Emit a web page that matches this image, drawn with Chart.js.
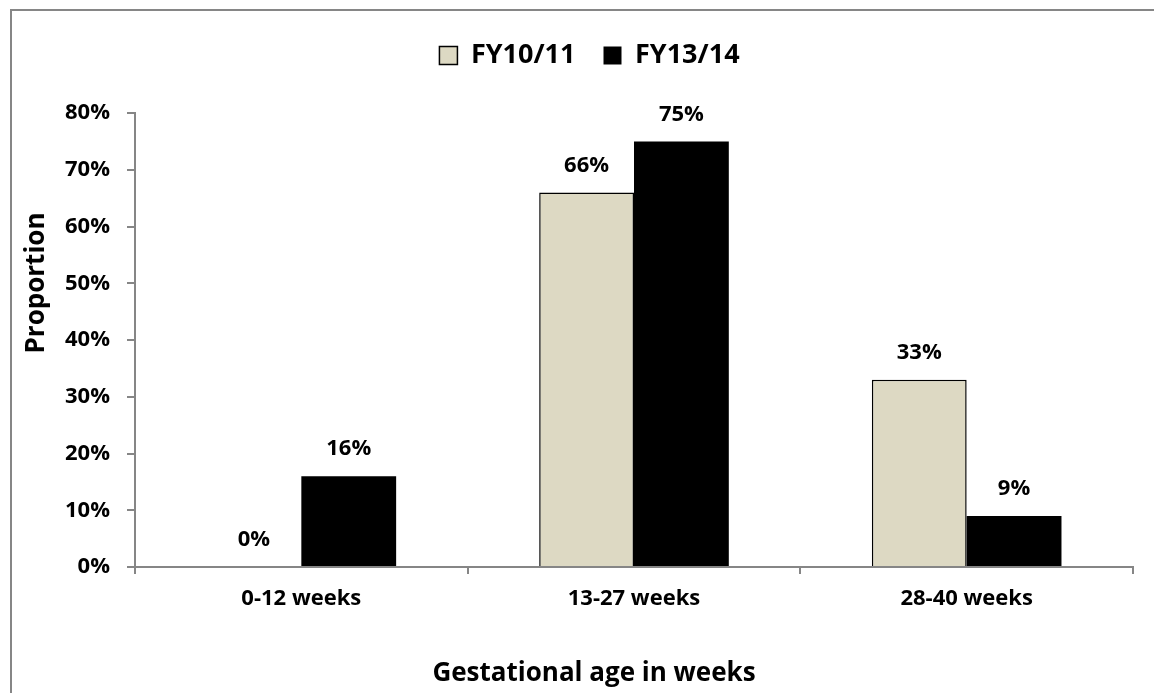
<!DOCTYPE html>
<html>
<head>
<meta charset="utf-8">
<script src="https://cdn.jsdelivr.net/npm/chart.js@4/dist/chart.umd.min.js"></script>
<style>
    html, body { margin: 0; padding: 0; background: #fff; overflow: hidden; }
    #frame {
        position: absolute; left: 10px; top: 9px;
        width: 1300px; height: 900px;
        border: 2px solid #868686;
    }
    #chart { position: absolute; left: 0; top: 0; }
</style>
</head>
<body>
<div id="frame"></div>
<canvas id="chart" width="1154" height="693"></canvas>
<script>

const categories = ["0-12 weeks", "13-27 weeks", "28-40 weeks"];

const seriesNames = ["FY10/11", "FY13/14"];

const fy1011 = [0, 66, 33];

const fy1314 = [16, 75, 9];

const yTicks = [0, 10, 20, 30, 40, 50, 60, 70, 80];

const xTitle = "Gestational age in weeks";

const yTitle = "Proportion";

const axisGray = "#868686";

const fontFamily = "'Open Sans', sans-serif";

// value labels above each bar
const barLabels = {
    id: "barLabels",
    afterDatasetsDraw(chart) {
        const ctx = chart.ctx;
        ctx.save();
        ctx.font = "bold 22px " + fontFamily;
        ctx.fillStyle = "#000";
        ctx.textAlign = "center";
        ctx.textBaseline = "middle";
        chart.data.datasets.forEach((ds, i) => {
            chart.getDatasetMeta(i).data.forEach((bar, j) => {
                ctx.fillText(ds.data[j] + "%", bar.x, bar.y - 27);
            });
        });
        ctx.restore();
    }
};

// axis titles are centred on the whole frame in the original, not the plot
const axisTitles = {
    id: "axisTitles",
    afterDraw(chart) {
        const ctx = chart.ctx;
        ctx.save();
        ctx.font = "bold 26px " + fontFamily;
        ctx.fillStyle = "#000";
        ctx.textAlign = "center";
        ctx.textBaseline = "middle";
        ctx.fillText(xTitle, 594, 674);
        ctx.translate(37, 283);
        ctx.rotate(-Math.PI / 2);
        ctx.fillText(yTitle, 0, 0);
        ctx.restore();
    }
};

// fixed legend height + nudge it a little
const legendFix = {
    id: "legendFix",
    beforeInit(chart) {
        const fit = chart.legend.fit;
        chart.legend.fit = function () {
            fit.call(this);
            this.height = 103;
        };
    },
    afterLayout(chart) {
        chart.legend.left += 24;
        chart.legend.top += 4;
    }
};

new Chart(document.getElementById("chart"), {

    type: "bar",

    data: {
        labels: categories,
        datasets: [
            {
                label: seriesNames[0],
                data: fy1011,
                backgroundColor: "#DDD9C3",
                borderColor: "#000",
                borderWidth: 1.5
            },
            {
                label: seriesNames[1],
                data: fy1314,
                backgroundColor: "#000",
                borderColor: "#000",
                borderWidth: 0
            }
        ]
    },

    plugins: [barLabels, axisTitles, legendFix],

    options: {
        responsive: false,
        animation: false,
        layout: {
            padding: { left: 22, right: 21, top: 10, bottom: 5 }
        },
        datasets: {
            bar: {
                categoryPercentage: 0.57,
                barPercentage: 1
            }
        },
        plugins: {
            tooltip: { enabled: false },
            legend: {
                position: "top",
                labels: {
                    color: "#000",
                    boxWidth: 18,
                    boxHeight: 18,
                    padding: 28,
                    font: { family: fontFamily, size: 27, weight: "bold" }
                }
            }
        },
        scales: {
            x: {
                afterFit(scale) { scale.height = 121; },
                grid: {
                    offset: true,
                    drawOnChartArea: false,
                    drawTicks: true,
                    tickLength: 7,
                    color: axisGray,
                    lineWidth: 2
                },
                border: { color: axisGray, width: 2 },
                ticks: {
                    color: "#000",
                    padding: 12,
                    font: { family: fontFamily, size: 22, weight: "bold" }
                },
                title: { display: false }
            },
            y: {
                min: yTicks[0],
                max: yTicks[yTicks.length - 1],
                afterFit(scale) { scale.width = 113; },
                afterBuildTicks(scale) {
                    scale.ticks = yTicks.map(v => ({ value: v }));
                },
                grid: {
                    drawOnChartArea: false,
                    drawTicks: true,
                    tickLength: 8,
                    color: axisGray,
                    lineWidth: 2
                },
                border: { color: axisGray, width: 2 },
                ticks: {
                    color: "#000",
                    padding: 17,
                    font: { family: fontFamily, size: 22, weight: "bold" },
                    callback: v => v + "%"
                },
                title: { display: false }
            }
        }
    }

});

</script>
</body>
</html>
